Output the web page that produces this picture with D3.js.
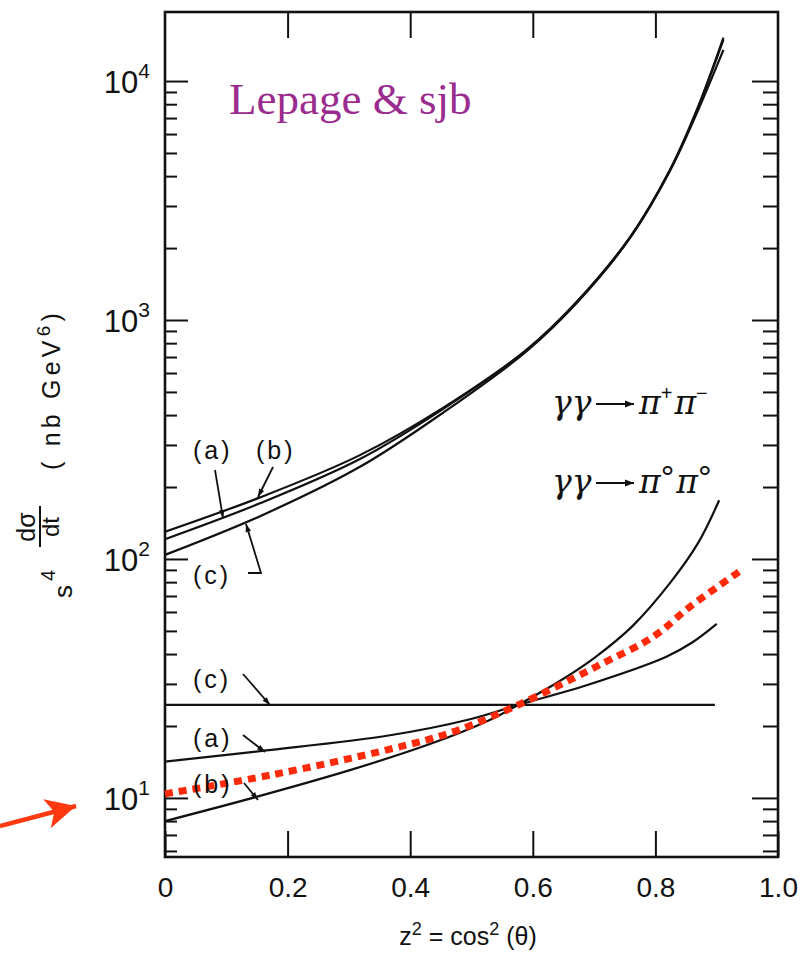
<!DOCTYPE html>
<html>
<head>
<meta charset="utf-8">
<script src="https://cdn.jsdelivr.net/npm/d3@7/dist/d3.min.js"></script>
<style>
  body { margin: 0; background: #fff; }
  svg { display: block; }
  text { fill: #111; }
</style>
</head>
<body>
<svg id="svg" width="802" height="954"></svg>
<script>
// values
var zPlus = [0, 0.155, 0.318, 0.454, 0.59, 0.672, 0.759, 0.824, 0.868, 0.911]
var plusA = [121, 171, 262, 425, 749, 1190, 2223, 4247, 7570, 14900]
var plusB = [130, 181, 272, 430, 752, 1195, 2230, 4260, 7620, 15200]
var plusC = [104, 151, 243, 410, 740, 1180, 2210, 4220, 7380, 13500]

var zZeroA = [0, 0.165, 0.367, 0.496, 0.576, 0.689, 0.817, 0.86, 0.90]
var zeroA = [14.2, 15.8, 18.3, 21.3, 24.5, 29.7, 38.9, 44.7, 53.5]
var zZeroB = [0, 0.149, 0.303, 0.432, 0.528, 0.576, 0.64, 0.70, 0.763, 0.824, 0.87, 0.904]
var zeroB = [8.0, 10.1, 13.1, 16.8, 21.1, 24.5, 30.4, 38.5, 52.5, 79.4, 117, 176]
var zZeroC = [0, 0.897]
var zeroC = [24.5, 24.5]

// red dotted overlay
var zRed = [0, 0.175, 0.367, 0.47, 0.576, 0.689, 0.715, 0.78, 0.81, 0.856, 0.941]
var red = [10.4, 12.5, 16.0, 18.9, 24.5, 33.9, 36.7, 44.5, 50.1, 63, 90]

var xTicks = [0, 0.2, 0.4, 0.6, 0.8, 1.0]
var xTickLabels = ["0", "0.2", "0.4", "0.6", "0.8", "1.0"]
var yDecades = [10, 100, 1000, 10000]
var yDomain = [5.66, 19450]

var SANS = "Liberation Sans, Arial, sans-serif"

var svg = d3.select("#svg")
var pLeft = 165, pRight = 778, pTop = 12, pBottom = 857

var x = d3.scaleLinear().domain([0, 1]).range([pLeft, pRight])
var y = d3.scaleLog().domain(yDomain).range([pBottom, pTop])

// minor ticks 2..9 per decade inside the domain
var yMinor = []
for (var d = 1; d <= 10000; d *= 10) {
  for (var m = 2; m <= 9; m++) {
    var v = d * m
    if (v > yDomain[0] && v < yDomain[1]) yMinor.push(v)
  }
}

var defs = svg.append("defs")
defs.append("marker")
  .attr("id", "head")
  .attr("viewBox", "0 0 10 10")
  .attr("refX", 10).attr("refY", 5)
  .attr("markerWidth", 11).attr("markerHeight", 8)
  .attr("markerUnits", "userSpaceOnUse")
  .attr("orient", "auto")
  .append("path").attr("d", "M0,1.5 L10,5 L0,8.5 Z").attr("fill", "#111")

defs.append("marker")
  .attr("id", "bighead")
  .attr("viewBox", "0 0 10 10")
  .attr("refX", 10).attr("refY", 5)
  .attr("markerWidth", 14).attr("markerHeight", 9)
  .attr("markerUnits", "userSpaceOnUse")
  .attr("orient", "auto")
  .append("path").attr("d", "M0,1 L10,5 L0,9 Z").attr("fill", "#111")

defs.append("marker")
  .attr("id", "redhead")
  .attr("viewBox", "0 0 10 10")
  .attr("refX", 10).attr("refY", 5)
  .attr("markerWidth", 32).attr("markerHeight", 30)
  .attr("markerUnits", "userSpaceOnUse")
  .attr("orient", "auto")
  .append("path").attr("d", "M0,0 L10,5 L0,10 L2.5,5 Z").attr("fill", "#ff3a10")

// ---- axes (ticks point inward on all four sides)
function tidy(g) {
  g.select(".domain").remove()
  g.selectAll(".tick line").attr("stroke", "#111").attr("stroke-width", 2)
}

svg.append("g").attr("transform", "translate(" + pLeft + ",0)")
  .call(d3.axisLeft(y).tickValues(yMinor).tickSize(-12).tickFormat(""))
  .call(tidy)
svg.append("g").attr("transform", "translate(" + pLeft + ",0)")
  .call(d3.axisLeft(y).tickValues(yDecades).tickSize(-23).tickFormat(""))
  .call(tidy)
svg.append("g").attr("transform", "translate(" + pRight + ",0)")
  .call(d3.axisRight(y).tickValues(yMinor).tickSize(-15).tickFormat(""))
  .call(tidy)
svg.append("g").attr("transform", "translate(" + pRight + ",0)")
  .call(d3.axisRight(y).tickValues(yDecades).tickSize(-26).tickFormat(""))
  .call(tidy)

svg.append("g").attr("transform", "translate(0," + pTop + ")")
  .call(d3.axisTop(x).tickValues(xTicks.slice(1, 5)).tickSize(-26).tickFormat(""))
  .call(tidy)

var xAxis = svg.append("g").attr("transform", "translate(0," + pBottom + ")")
  .call(d3.axisBottom(x).tickValues(xTicks).tickSize(-26).tickPadding(20)
    .tickFormat((d, i) => xTickLabels[i]))
  .call(tidy)
xAxis.selectAll("text").attr("font-size", 28).style("fill", "#111")
  .style("font-family", SANS)

// frame
svg.append("rect")
  .attr("x", pLeft).attr("y", pTop)
  .attr("width", pRight - pLeft).attr("height", pBottom - pTop)
  .attr("fill", "none").attr("stroke", "#111").attr("stroke-width", 2.6)

// decade labels 10^n
yDecades.forEach(function (d) {
  var t = svg.append("text")
    .attr("x", 150).attr("y", y(d) + 12)
    .attr("text-anchor", "end").attr("font-size", 31).style("font-family", SANS)
  t.append("tspan").text("10")
  t.append("tspan").attr("dy", -15).attr("font-size", 21).text(Math.round(Math.log10(d)))
})

// x axis title
var xt = svg.append("text").attr("x", 468).attr("y", 945)
  .attr("text-anchor", "middle").attr("font-size", 25).style("font-family", SANS)
xt.append("tspan").text("z")
xt.append("tspan").attr("dy", -10).attr("font-size", 18).text("2")
xt.append("tspan").attr("dy", 10).text(" = cos")
xt.append("tspan").attr("dy", -10).attr("font-size", 18).text("2")
xt.append("tspan").attr("dy", 10).text(" (θ)")

// y axis title, rotated
var yt = svg.append("g").attr("transform", "translate(60,600) rotate(-90)")
  .style("font-family", SANS)
yt.append("text").attr("x", 2).attr("y", 12).attr("font-size", 26).text("s")
yt.append("text").attr("x", 19).attr("y", -5).attr("font-size", 20).text("4")
yt.append("text").attr("x", 73).attr("y", -25).attr("font-size", 25)
  .attr("text-anchor", "middle").text("dσ")
yt.append("line").attr("x1", 53).attr("x2", 94).attr("y1", -20).attr("y2", -20)
  .attr("stroke", "#111").attr("stroke-width", 2)
yt.append("text").attr("x", 73).attr("y", -1).attr("font-size", 24)
  .attr("text-anchor", "middle").text("dt")
var nb = yt.append("text").attr("x", 130).attr("y", 0).attr("font-size", 25)
  .attr("letter-spacing", 4.2)
nb.append("tspan").text("( nb GeV")
nb.append("tspan").attr("dy", -10).attr("font-size", 19).text("6")
nb.append("tspan").attr("dy", 10).text(")")

// ---- curves
var line = d3.line()
  .x(d => x(d[0]))
  .y(d => y(d[1]))
  .curve(d3.curveCatmullRom.alpha(0.5))

function curve(zs, vs) {
  return svg.append("path")
    .datum(zs.map((z, i) => [z, vs[i]]))
    .attr("fill", "none")
    .attr("d", line)
}

curve(zPlus, plusA).attr("stroke", "#111").attr("stroke-width", 2.2)
curve(zPlus, plusB).attr("stroke", "#111").attr("stroke-width", 2.2)
curve(zPlus, plusC).attr("stroke", "#111").attr("stroke-width", 2.2)
curve(zZeroA, zeroA).attr("stroke", "#111").attr("stroke-width", 2.2)
curve(zZeroB, zeroB).attr("stroke", "#111").attr("stroke-width", 2.2)
curve(zZeroC, zeroC).attr("stroke", "#111").attr("stroke-width", 2.2)
curve(zRed, red).attr("stroke", "#ff2a0a").attr("stroke-width", 7)
  .attr("stroke-dasharray", "8,6")

// ---- labels with pointer arrows
function label(txt, px, py) {
  svg.append("text").attr("x", px).attr("y", py).attr("font-size", 25)
    .style("font-family", SANS).attr("letter-spacing", 3).text(txt)
}
function pointer(pts) {
  svg.append("path").attr("d", d3.line()(pts)).attr("fill", "none")
    .attr("stroke", "#111").attr("stroke-width", 1.8).attr("marker-end", "url(#head)")
}

label("(a)", 193, 459)
label("(b)", 256, 459)
label("(c)", 193, 584)
label("(c)", 193, 688)
label("(a)", 193, 747)
label("(b)", 193, 793)

pointer([[215, 470], [223, 518]])
pointer([[273, 467], [258, 497]])
pointer([[248, 573], [261, 573], [246, 524]])
pointer([[243, 674], [270, 705]])
pointer([[243, 735], [265, 752]])
pointer([[244, 783], [258, 800]])

// reaction labels
function reaction(py, sup, supSize, supDy) {
  svg.append("text").attr("x", 552).attr("y", py).attr("font-size", 33)
    .attr("font-style", "italic").style("font-family", "DejaVu Serif, serif")
    .text("γγ")
  svg.append("line").attr("x1", 596).attr("x2", 634).attr("y1", py - 10).attr("y2", py - 10)
    .attr("stroke", "#111").attr("stroke-width", 2).attr("marker-end", "url(#bighead)")
  var p = svg.append("text").attr("x", 639).attr("y", py).attr("font-size", 33)
    .attr("font-style", "italic").style("font-family", "DejaVu Serif, serif")
  p.append("tspan").text("π")
  p.append("tspan").attr("dy", -supDy).attr("font-size", supSize).attr("font-style", "normal")
    .style("font-family", SANS).text(sup[0])
  p.append("tspan").attr("dy", supDy).attr("dx", 2).text("π")
  p.append("tspan").attr("dy", -supDy).attr("font-size", supSize).attr("font-style", "normal")
    .style("font-family", SANS).text(sup[1])
}
reaction(414, ["+", "−"], 20, 14)
reaction(493, ["°", "°"], 34, 4)

// purple credit
svg.append("text").attr("x", 229).attr("y", 114)
  .style("font-family", "Liberation Serif, Times New Roman, serif")
  .attr("font-size", 45).style("fill", "#9b2c8f")
  .text("Lepage & sjb")

// red arrow at the 10^1 label
svg.append("line").attr("x1", 0).attr("y1", 826).attr("x2", 76).attr("y2", 806)
  .attr("stroke", "#ff3a10").attr("stroke-width", 4.5).attr("marker-end", "url(#redhead)")
</script>
</body>
</html>
